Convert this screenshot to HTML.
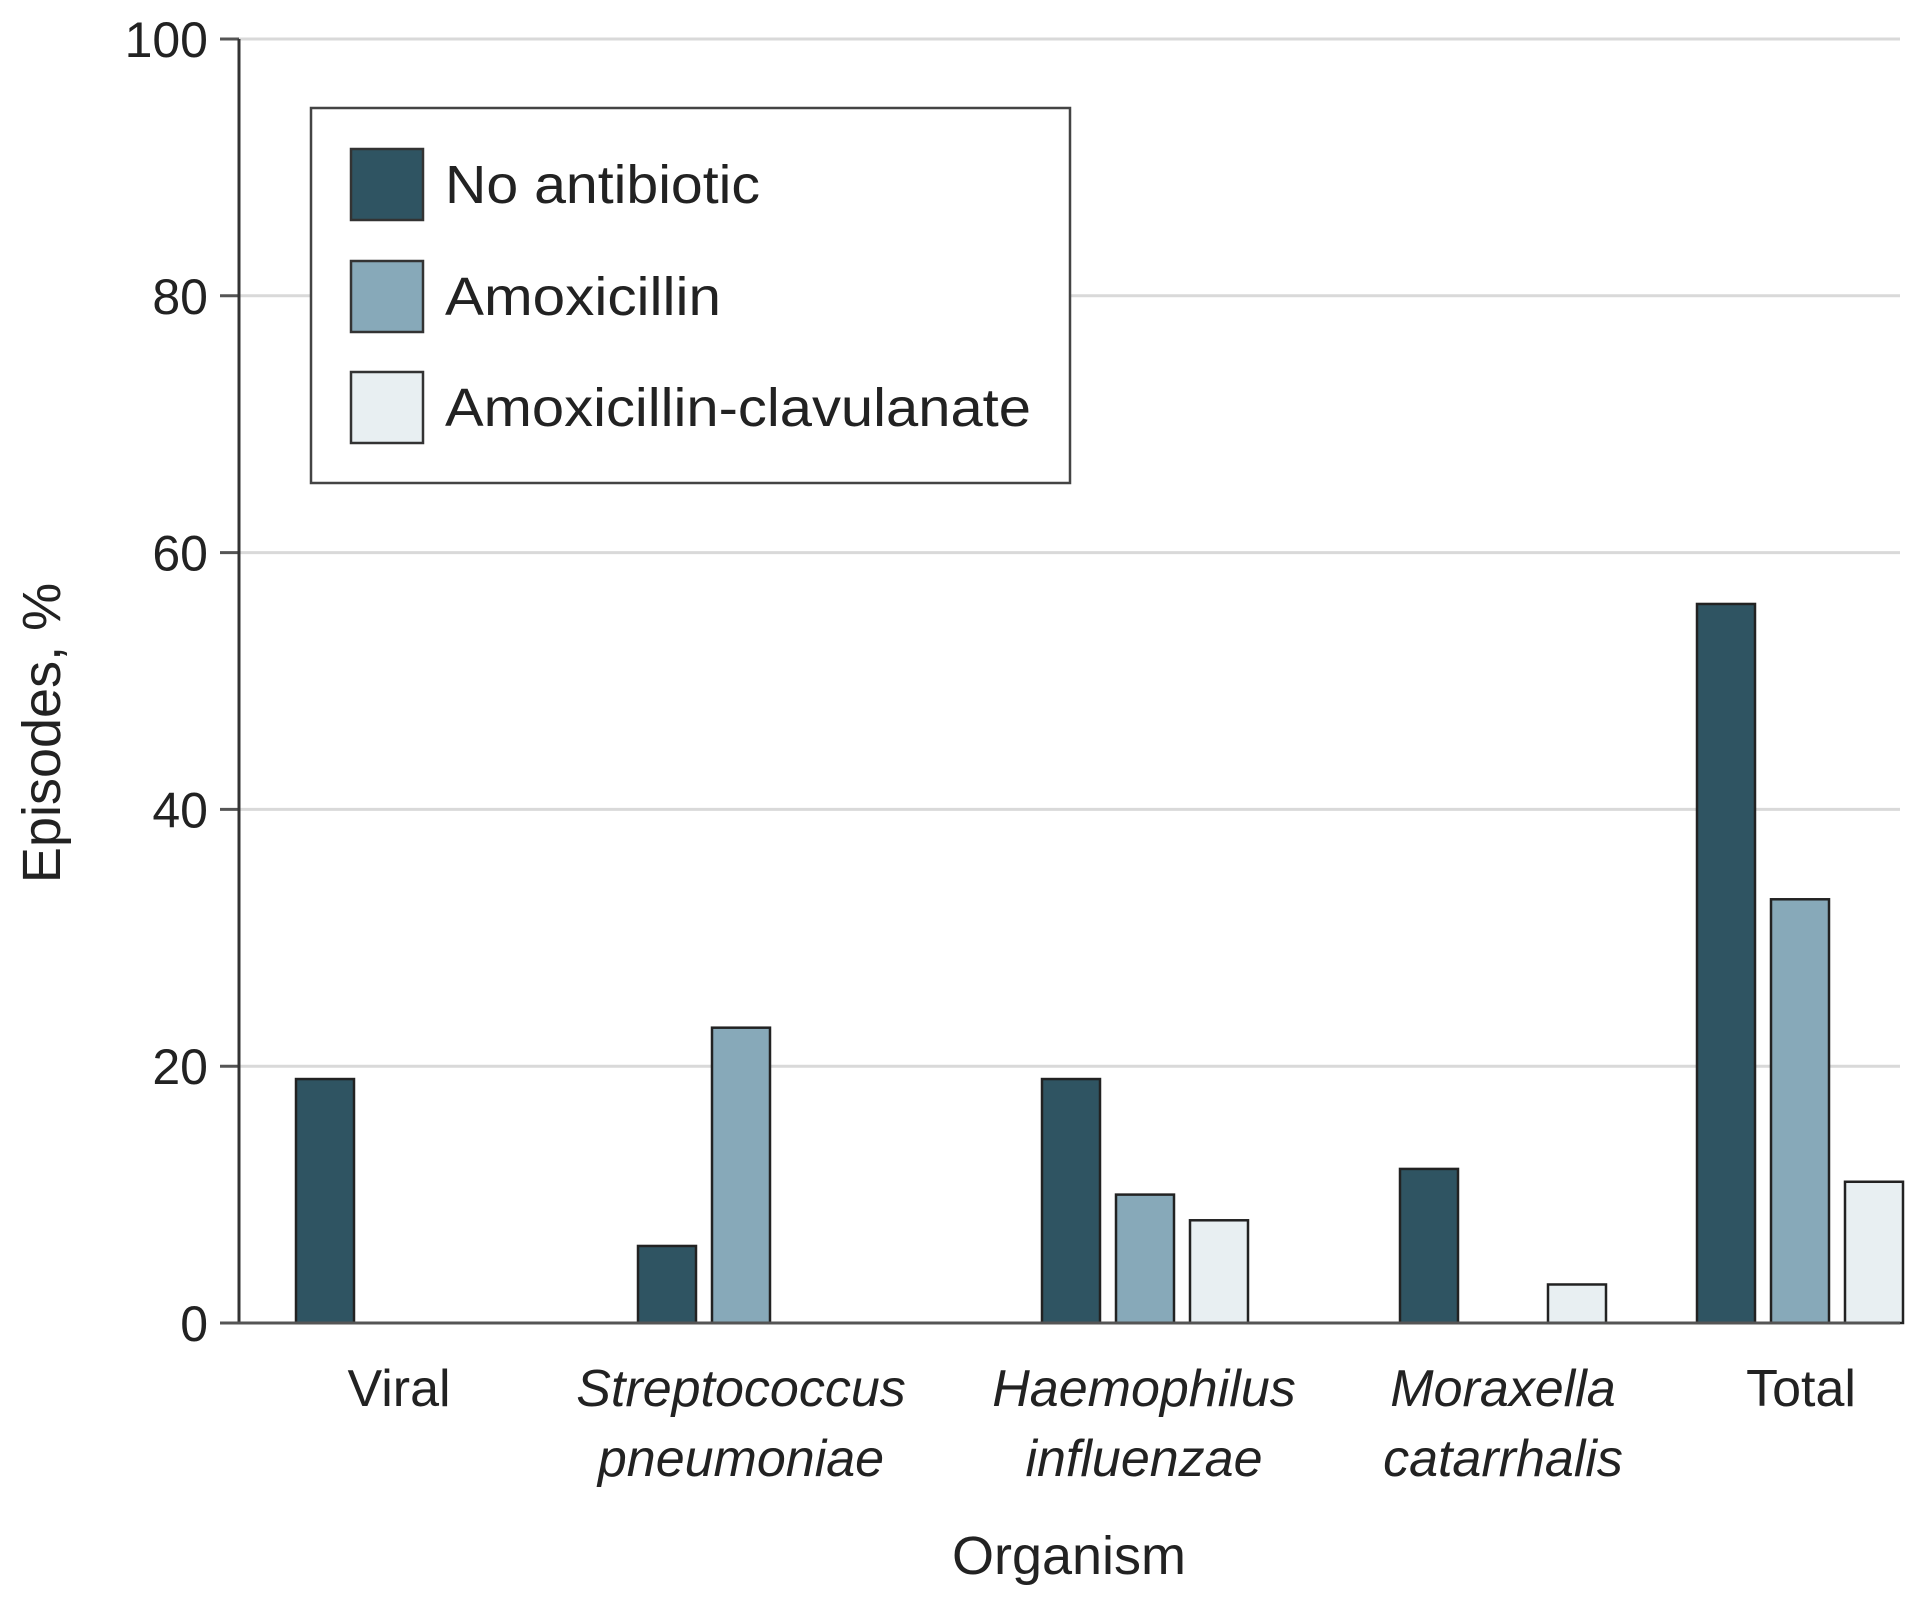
<!DOCTYPE html>
<html><head><meta charset="utf-8">
<style>
html,body{margin:0;padding:0;background:#fff;}
svg{display:block;font-family:"Liberation Sans",sans-serif;}
text{fill:#222;}
</style></head>
<body>
<svg id="chart" width="1920" height="1604" viewBox="0 0 1920 1604" xmlns="http://www.w3.org/2000/svg"></svg>
<script>
const categories = ["Viral", "Streptococcus pneumoniae", "Haemophilus influenzae", "Moraxella catarrhalis", "Total"];
const noAntibiotic = [19, 6, 19, 12, 56];
const amoxicillin = [0, 23, 10, 0, 33];
const amoxClav = [0, 0, 8, 3, 11];
const yTicks = [0, 20, 40, 60, 80, 100];
const seriesNames = ["No antibiotic", "Amoxicillin", "Amoxicillin-clavulanate"];

const NS = "http://www.w3.org/2000/svg";
const svg = document.getElementById("chart");
const colors = ["#2f5462", "#87a9b9", "#e8eff2"];
const x0 = 239, x1 = 1900, yBase = 1323, yTop = 39;
const yScale = v => yBase - (v / 100) * (yBase - yTop);
// layout (pixel) of group starts, not data
const groupStart = [296, 638, 1042, 1400, 1697];
const barW = 58, barStep = 74;
const labelLines = [["Viral"], ["Streptococcus", "pneumoniae"], ["Haemophilus", "influenzae"], ["Moraxella", "catarrhalis"], ["Total"]];
const italic = [false, true, true, true, false];
const labelCx = [399, 741, 1144, 1503, 1801];

function mk(tag, attrs) { const e = document.createElementNS(NS, tag); for (const k in attrs) e.setAttribute(k, attrs[k]); svg.appendChild(e); return e; }

yTicks.forEach(t => {
  const y = yScale(t);
  if (t > 0) {
    const g = mk("line", {x1: x0, x2: x1, y1: y, y2: y, stroke: "#d9d9d9", "stroke-width": 3});
    
    
  }
  const tk = mk("line", {x1: x0 - 19, x2: x0, y1: y, y2: y, stroke: "#555", "stroke-width": 3});
  
  
  const lb = mk("text", {x: 208, y: y + 18, "text-anchor": "end", "font-size": 50});
  lb.textContent = t;
  
  
});

const series = [noAntibiotic, amoxicillin, amoxClav];
series.forEach((vals, s) => {
  vals.forEach((v, i) => {
    if (v <= 0) return;
    const x = groupStart[i] + s * barStep;
    const r = mk("rect", {x: x, y: yScale(v), width: barW, height: yBase - yScale(v), fill: colors[s], stroke: "#222", "stroke-width": 2.5});
    
    
  });
});

const yAxis = mk("line", {x1: x0, x2: x0, y1: yTop, y2: yBase, stroke: "#333", "stroke-width": 3});


const xAxis = mk("line", {x1: x0 - 19, x2: x1, y1: yBase, y2: yBase, stroke: "#555", "stroke-width": 3});



categories.forEach((c, i) => {
  labelLines[i].forEach((ln, j) => {
    const t = mk("text", {x: labelCx[i], y: 1406 + j * 70, "text-anchor": "middle", "font-size": 52, "font-style": italic[i] ? "italic" : "normal"});
    t.textContent = ln;
    
    
  });
});

const xt = mk("text", {x: 1069, y: 1574, "text-anchor": "middle", "font-size": 54});
xt.textContent = "Organism";


const yt = mk("text", {x: 0, y: 0, "text-anchor": "middle", "font-size": 54, transform: "translate(60,733) rotate(-90)"});
yt.textContent = "Episodes, %";



const lg = mk("rect", {x: 311, y: 108, width: 759, height: 375, fill: "#fff", stroke: "#444", "stroke-width": 2.5});


const swY = [149, 261, 372];
const textLens = [315, 276, 586];
seriesNames.forEach((n, s) => {
  const sw = mk("rect", {x: 351, y: swY[s], width: 72, height: 71, fill: colors[s], stroke: "#333", "stroke-width": 2.5});
  
  
  const t = mk("text", {x: 445, y: swY[s] + 54, "font-size": 54, textLength: textLens[s], lengthAdjust: "spacingAndGlyphs"});
  t.textContent = n;
  
  
});
</script>
</body></html>
